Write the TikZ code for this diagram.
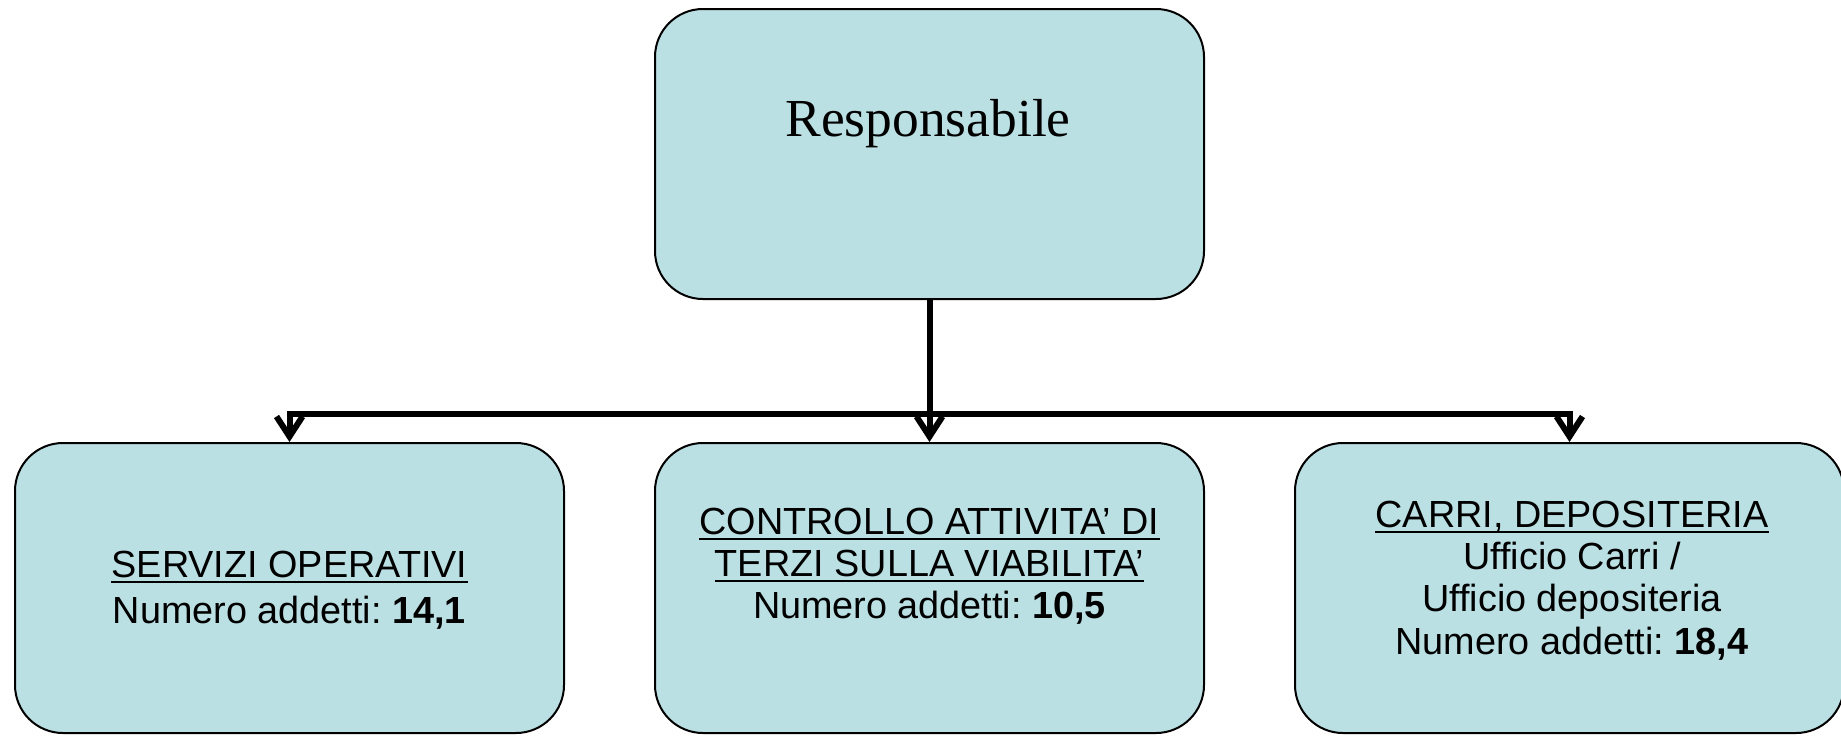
\documentclass[tikz,border=0pt]{standalone}
\usepackage{fontspec}
\setmainfont{Liberation Sans}
\newfontfamily\seriffam{Liberation Serif}
\usetikzlibrary{arrows.meta}
\definecolor{boxfill}{RGB}{187,224,227}
\frenchspacing
\begin{document}
\frenchspacing
\begin{tikzpicture}[x=1pt,y=-1pt,
  box/.style={draw=black, line width=2pt, fill=boxfill, rounded corners=48pt,
    minimum width=549pt, minimum height=290pt, inner sep=0pt},
  txt/.style={anchor=base, inner sep=0pt, font=\fontsize{37.8pt}{43pt}\selectfont\frenchspacing},
  conn/.style={line width=6pt, line join=miter},
  arr/.style={conn, -{Straight Barb[length=20pt,width=26pt]}},
  uline/.style={line width=2.5pt}]
\useasboundingbox (0,0) rectangle (1841,737);
% boxes
\node[box] (top) at (929.5,154) {};
\node[box] (b1) at (289.5,588) {};
\node[box] (b2) at (929.5,588) {};
\node[box] (b3) at (1569.5,588) {};
% texts
\node[anchor=base, inner sep=0pt, font=\seriffam\fontsize{53.5pt}{60pt}\selectfont] (resp) at (928,136) {Responsabile};

\node[txt] (t1a) at (289.5,577) {SERVIZI OPERATIVI};
\node[txt] (t1b) at (289.5,623) {Numero addetti: \textbf{14,1}};

\node[txt] (t2a) at (929.5,534) {CONTROLLO ATTIVITA’ DI};
\node[txt] (t2b) at (929.5,576) {TERZI SULLA VIABILITA’};
\node[txt] (t2c) at (929.5,618) {Numero addetti: \textbf{10,5}};

\node[txt] (t3a) at (1572,527) {CARRI, DEPOSITERIA};
\node[txt] (t3b) at (1572,569.5) {Ufficio Carri /};
\node[txt] (t3c) at (1572,611.5) {Ufficio depositeria};
\node[txt] (t3d) at (1572,654) {Numero addetti: \textbf{18,4}};
% underlines
\foreach \n in {t1a,t2a,t2b,t3a}
  \draw[uline] ([yshift=-5pt]\n.base west) -- ([yshift=-5pt]\n.base east);
% connectors
\coordinate (bus) at (929.5,414);
\draw[conn] (top.south) -- (bus);
\draw[arr] (bus) -- (b2.north);
\draw[arr] (bus) -| (b1.north);
\draw[arr] (bus) -| (b3.north);
\end{tikzpicture}
\end{document}
